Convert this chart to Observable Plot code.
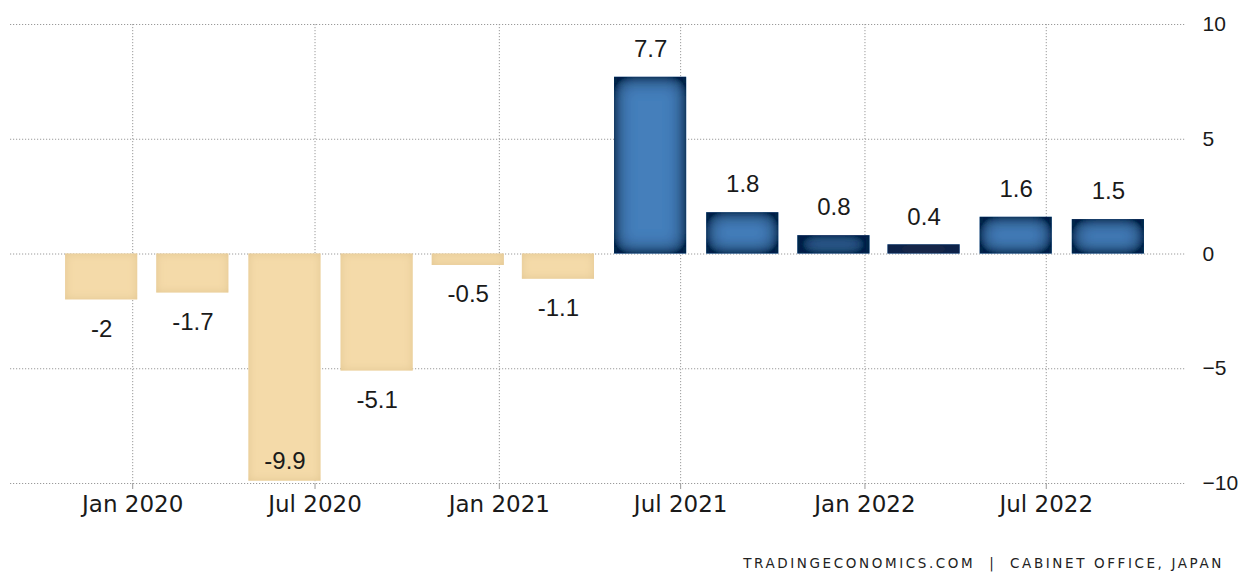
<!DOCTYPE html>
<html>
<head>
<meta charset="utf-8">
<script src="https://cdn.jsdelivr.net/npm/d3@7"></script>
<script src="https://cdn.jsdelivr.net/npm/@observablehq/plot@0.6"></script>
<style>
  html, body { margin: 0; padding: 0; background: #fff; }
  #chart { width: 1240px; height: 573px; position: relative; overflow: hidden; }
  #caption {
    position: absolute; right: 16px; top: 555px;
    font-family: "DejaVu Sans", sans-serif; font-size: 13.5px; letter-spacing: 2.6px;
    color: #222; white-space: pre;
  }
</style>
</head>
<body>
<div id="chart"></div>
<script>
// Quarterly GDP growth (QoQ %), Japan — from the reference picture
const dates  = ["2019-12-01","2020-03-01","2020-06-01","2020-09-01","2020-12-01","2021-03-01",
                "2021-06-01","2021-09-01","2021-12-01","2022-03-01","2022-06-01","2022-09-01"];
const values = [-2, -1.7, -9.9, -5.1, -0.5, -1.1, 7.7, 1.8, 0.8, 0.4, 1.6, 1.5];
const xTickDates = ["2020-01-01","2020-07-01","2021-01-01","2021-07-01","2022-01-01","2022-07-01"];
const xTickLabels = ["Jan 2020","Jul 2020","Jan 2021","Jul 2021","Jan 2022","Jul 2022"];
const yTicks = [-10, -5, 0, 5, 10];
const captionText = "TRADINGECONOMICS.COM  |  CABINET OFFICE, JAPAN";

const data = dates.map((d, i) => ({date: new Date(d), v: values[i]}));
const ticks = xTickDates.map(d => new Date(d));
const labelOf = new Map(ticks.map((t, i) => [+t, xTickLabels[i]]));
const half = 36; // days, half bar width

const pos = data.filter(d => d.v >= 0);
const neg = data.filter(d => d.v < 0);
const BLUE = "#447fbb", BEIGE = "#f4daa9";

const chart = Plot.plot({
  width: 1240,
  height: 540,
  marginLeft: 10,
  marginRight: 55,
  marginTop: 24,
  marginBottom: 57,
  style: {background: "#fff", overflow: "visible"},
  x: {type: "utc", domain: [new Date("2019-09-01"), new Date("2022-11-17")], label: null},
  y: {domain: [-10, 10], label: null},
  marks: [
    Plot.gridY(yTicks, {stroke: "#9a9a9a", strokeOpacity: 1, strokeDasharray: "1.2,1.8"}),
    Plot.gridX(ticks, {stroke: "#9a9a9a", strokeOpacity: 1, strokeDasharray: "1.2,1.8"}),
    Plot.rect(neg, {
      x1: d => d3.utcDay.offset(d.date, -half), x2: d => d3.utcDay.offset(d.date, half),
      y1: 0, y2: "v", fill: BEIGE
    }),
    Plot.rect(pos, {
      x1: d => d3.utcDay.offset(d.date, -half), x2: d => d3.utcDay.offset(d.date, half),
      y1: 0, y2: "v", fill: BLUE
    }),
    Plot.axisX(ticks, {
      tickSize: 6, tickPadding: 6, stroke: "#999", label: null,
      tickFormat: t => labelOf.get(+t),
      fontSize: 23, fontFamily: "DejaVu Sans", fill: "#1a1a1a"
    }),
    Plot.axisY(yTicks, {
      anchor: "right", tickSize: 0, tickPadding: 17, label: null,
      fontSize: 21, fontFamily: "Liberation Sans", fill: "#1a1a1a"
    }),
    Plot.text(pos, {x: "date", y: "v", text: d => String(d.v), dy: -28, lineAnchor: "middle",
      fontSize: 24, fontFamily: "Liberation Sans", fill: "#1a1a1a"}),
    Plot.text(neg.filter(d => d.v > -8), {x: "date", y: "v", text: d => String(d.v), dy: 29, lineAnchor: "middle",
      fontSize: 24, fontFamily: "Liberation Sans", fill: "#1a1a1a"}),
    Plot.text(neg.filter(d => d.v <= -8), {x: "date", y: "v", text: d => String(d.v), dy: -20, lineAnchor: "middle",
      fontSize: 24, fontFamily: "Liberation Sans", fill: "#1a1a1a"})
  ]
});

const svg = d3.select(chart);
svg.insert("defs", ":first-child").html(`
  <filter id="glowBlue" filterUnits="userSpaceOnUse" x="-500" y="-500" width="3000" height="2000">
    <feFlood flood-color="#072048" result="f"/>
    <feComposite in="f" in2="SourceAlpha" operator="out" result="outside"/>
    <feGaussianBlur in="outside" stdDeviation="10" result="blur"/>
    <feComponentTransfer in="blur" result="boost">
      <feFuncA type="linear" slope="1.8" intercept="0"/>
    </feComponentTransfer>
    <feComposite in="boost" in2="SourceAlpha" operator="in" result="inner"/>
    <feMerge><feMergeNode in="SourceGraphic"/><feMergeNode in="inner"/></feMerge>
  </filter>
  <filter id="glowBeige" filterUnits="userSpaceOnUse" x="-500" y="-500" width="3000" height="2000">
    <feFlood flood-color="#dcc08c" flood-opacity="0.8" result="f"/>
    <feComposite in="f" in2="SourceAlpha" operator="out" result="outside"/>
    <feGaussianBlur in="outside" stdDeviation="4" result="blur"/>
    <feComposite in="blur" in2="SourceAlpha" operator="in" result="inner"/>
    <feMerge><feMergeNode in="SourceGraphic"/><feMergeNode in="inner"/></feMerge>
  </filter>`);
svg.selectAll("g").filter(function() {
  return (this.getAttribute("fill") || "").toLowerCase() === BLUE;
}).selectAll("rect").attr("filter", "url(#glowBlue)");
svg.selectAll("g").filter(function() {
  return (this.getAttribute("fill") || "").toLowerCase() === BEIGE;
}).selectAll("rect").attr("filter", "url(#glowBeige)");

const container = document.getElementById("chart");
container.appendChild(chart);
const cap = document.createElement("div");
cap.id = "caption";
cap.textContent = captionText;
container.appendChild(cap);
</script>
</body>
</html>
